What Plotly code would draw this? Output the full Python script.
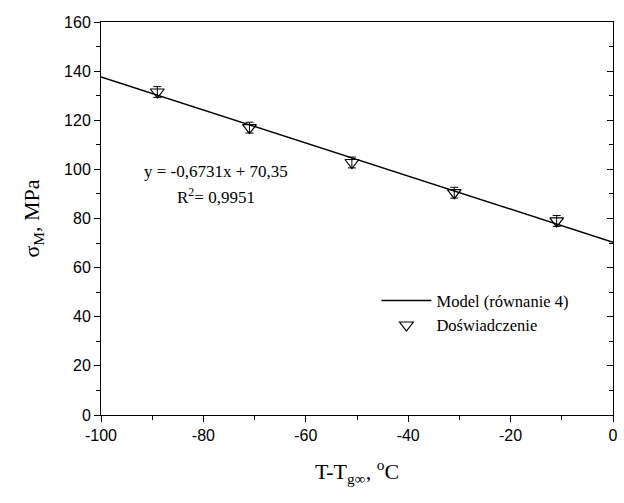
import plotly.graph_objects as go

# Data
temps = [-89, -71, -51, -31, -11]
stress = [131.5, 117.0, 102.8, 90.5, 79.0]
stress_err = [2.2, 2.2, 2.2, 2.2, 2.2]
model_x = [-100, 0]
slope = -0.6731
intercept = 70.35
model_y = [slope * x + intercept for x in model_x]

x_ticks = [-100, -80, -60, -40, -20, 0]
x_tick_labels = ["-100", "-80", "-60", "-40", "-20", "0"]
y_ticks = [0, 20, 40, 60, 80, 100, 120, 140, 160]

eq_text = "y = -0,6731x + 70,35"
r2_text = "R<sup>2</sup>= 0,9951"

fig = go.Figure()
fig.add_trace(go.Scatter(
    x=model_x, y=model_y, mode="lines",
    line=dict(color="black", width=1.5),
    name="Model (równanie 4)"))
fig.add_trace(go.Scatter(
    x=temps, y=stress, mode="markers",
    marker=dict(symbol="triangle-down-open", size=12, color="black",
                line=dict(width=1.2, color="black")),
    error_y=dict(type="data", array=stress_err, visible=True,
                 color="black", thickness=1, width=4),
    name="Doświadczenie"))

fig.add_annotation(x=-77.5, y=99, text=eq_text, showarrow=False,
                   font=dict(family="Liberation Serif", size=17, color="black"))
fig.add_annotation(x=-77.5, y=89.3, text=r2_text, showarrow=False,
                   font=dict(family="Liberation Serif", size=17, color="black"))

axis_common = dict(showline=True, linecolor="black", linewidth=1,
                   showgrid=False, zeroline=False, ticks="outside",
                   ticklen=6, tickcolor="black", automargin=False,
                   tickfont=dict(family="Liberation Sans", size=16, color="black"))

fig.update_layout(
    width=624, height=503,
    margin=dict(l=101, r=11, t=22, b=88),
    plot_bgcolor="white", paper_bgcolor="white",
    showlegend=True,
    legend=dict(x=0.538, y=0.335, xanchor="left", yanchor="top",
                bgcolor="rgba(0,0,0,0)", itemwidth=50,
                font=dict(family="Liberation Serif", size=16.5, color="black"),
                tracegroupgap=0),
    xaxis=dict(range=[-100, 0], tickvals=x_ticks, ticktext=x_tick_labels,
               minor=dict(dtick=10, ticks="outside", ticklen=4, tickcolor="black"),
               mirror=True,
               title=dict(text="T-T<sub>g∞</sub>, <sup>o</sup>C", standoff=20,
                          font=dict(family="Liberation Serif", size=22, color="black")),
               **axis_common),
    yaxis=dict(range=[0, 160], tickvals=y_ticks,
               minor=dict(dtick=10, ticks="outside", ticklen=4, tickcolor="black"),
               title=dict(text="σ<sub>M</sub>, MPa", standoff=18,
                          font=dict(family="Liberation Serif", size=22, color="black")),
               **axis_common),
    yaxis2=dict(range=[0, 160], tickvals=y_ticks, overlaying="y", side="right",
                showline=True, linecolor="black", linewidth=1, showgrid=False,
                zeroline=False, ticks="inside", ticklen=6, tickcolor="black",
                showticklabels=False, automargin=False,
                minor=dict(dtick=10, ticks="inside", ticklen=4, tickcolor="black")),
)
fig.add_trace(go.Scatter(x=[-50], y=[-10], yaxis="y2", showlegend=False,
                         mode="markers", marker=dict(opacity=0),
                         hoverinfo="skip"))

fig.write_html("out.html")
